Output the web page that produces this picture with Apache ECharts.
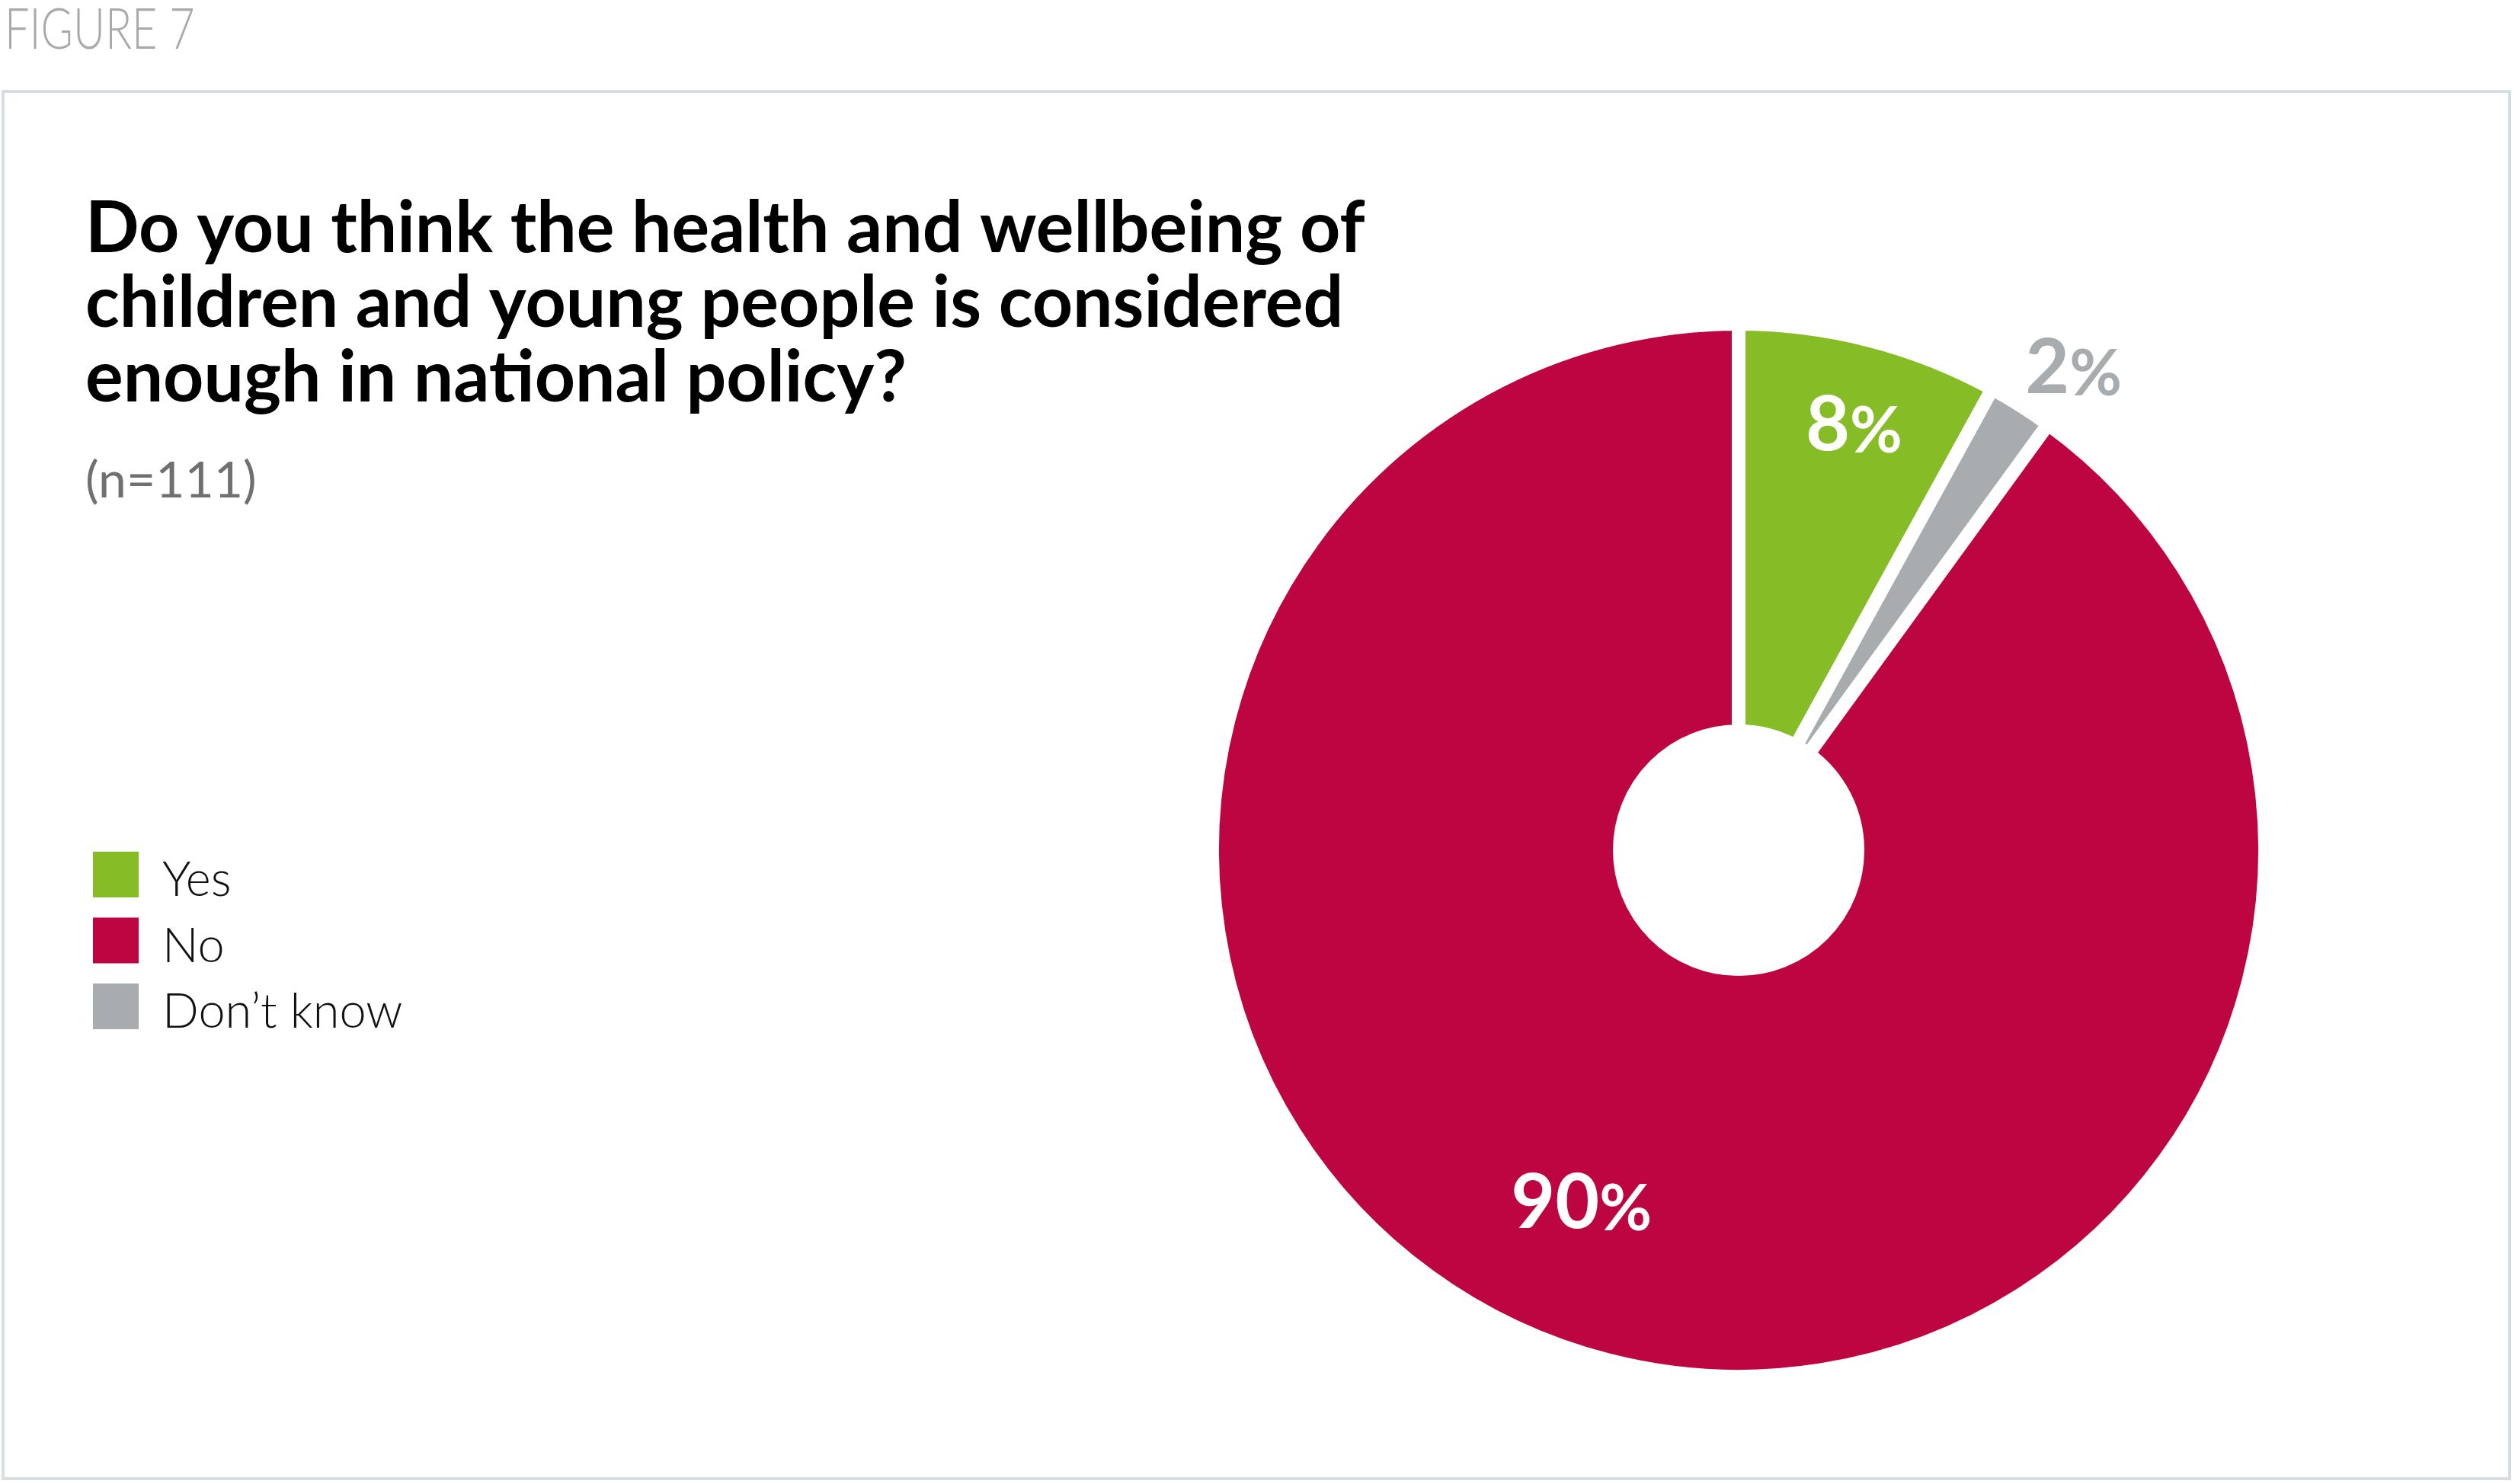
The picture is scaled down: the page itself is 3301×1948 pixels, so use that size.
<!DOCTYPE html>
<html>
<head>
<meta charset="utf-8">
<title>Figure 7</title>
<script src="https://cdn.jsdelivr.net/npm/echarts@6/dist/echarts.min.js"></script>
<style>
html, body { margin: 0; padding: 0; background: #fff; }
#main { width: 3301px; height: 1948px; }
</style>
</head>
<body>
<div id="main"></div>
<script>
// slices, clockwise from 12 o'clock
var categories = ['Yes', 'Don\u2019t know', 'No'];
var shares = [8, 2, 90];
var sliceColors = ['#86bc25', '#a9acaf', '#bd0541'];
var labelColors = ['#ffffff', '#a9acaf', '#ffffff'];
// legend reads in a different order than the slices
var legendOrder = ['Yes', 'No', 'Don\u2019t know'];

var CENTER = [2282, 1116];
// label placement: push = radial factor from the default inside spot, turn = degrees clockwise
var labelPush = [1.353, 1.806, 1.19];
var labelTurn = [0.8, 2.4, 6];

var chart = echarts.init(document.getElementById('main'));

var pieData = [];
for (var i = 0; i < categories.length; i++) {
    pieData.push({
        name: categories[i],
        value: shares[i],
        itemStyle: { color: sliceColors[i] },
        label: { color: labelColors[i] }
    });
}

var option = {
    backgroundColor: '#ffffff',
    animation: false,
    title: {
        text: 'Do you think the health and wellbeing of\nchildren and young people is considered\nenough in national policy?',
        subtext: '(n=111)',
        left: 112,
        top: 252,
        padding: 0,
        itemGap: 50,
        textStyle: {
            fontFamily: 'Lato',
            fontWeight: 'bold',
            fontSize: 93,
            lineHeight: 98,
            color: '#000000'
        },
        subtextStyle: {
            fontFamily: 'Lato',
            fontWeight: 'normal',
            fontSize: 66,
            lineHeight: 72,
            color: '#707070'
        }
    },
    legend: {
        data: legendOrder,
        orient: 'vertical',
        left: 122,
        top: 1118,
        padding: 0,
        itemWidth: 60,
        itemHeight: 60,
        itemGap: 17,
        icon: 'rect',
        itemStyle: { borderWidth: 0 },
        selectedMode: false,
        formatter: '{t|{name}}',
        textStyle: {
            fontFamily: 'Lato',
            fontWeight: 300,
            fontSize: 63,
            color: '#111111',
            padding: [0, 0, 0, 26],
            rich: {
                t: {
                    fontFamily: 'Lato',
                    fontWeight: 300,
                    fontSize: 63,
                    padding: [16, 0, 0, 0]
                }
            }
        }
    },
    graphic: [
        {
            type: 'rect',
            silent: true,
            shape: { x: 4, y: 120, width: 3290, height: 1821 },
            style: { fill: 'none', stroke: '#d6dee1', lineWidth: 4 }
        },
        {
            type: 'text',
            silent: true,
            x: 6,
            y: 3,
            scaleX: 0.78,
            style: {
                text: 'FIGURE 7',
                fill: '#a7a9ac',
                font: '300 74px Lato',
                verticalAlign: 'top'
            }
        }
    ],
    series: [
        {
            type: 'pie',
            center: CENTER,
            radius: [156, 691],
            startAngle: 90,
            clockwise: true,
            avoidLabelOverlap: false,
            silent: true,
            itemStyle: { borderColor: '#ffffff', borderWidth: 18 },
            label: {
                show: true,
                position: 'inside',
                formatter: '{v|{c}}{p|%}',
                rich: {
                    v: { fontFamily: 'Lato', fontWeight: 'bold', fontSize: 100, verticalAlign: 'bottom' },
                    p: { fontFamily: 'Lato', fontWeight: 'bold', fontSize: 84, verticalAlign: 'bottom' }
                }
            },
            labelLine: { show: false },
            labelLayout: function (p) {
                var k = labelPush[p.dataIndex];
                var a = labelTurn[p.dataIndex] * Math.PI / 180;
                var vx = (p.labelRect.x + p.labelRect.width / 2 - CENTER[0]) * k;
                var vy = (p.labelRect.y + p.labelRect.height / 2 - CENTER[1]) * k;
                return {
                    x: CENTER[0] + vx * Math.cos(a) - vy * Math.sin(a),
                    y: CENTER[1] + vx * Math.sin(a) + vy * Math.cos(a),
                    align: 'center',
                    verticalAlign: 'middle'
                };
            },
            data: pieData
        }
    ]
};

chart.setOption(option);
</script>
</body>
</html>
